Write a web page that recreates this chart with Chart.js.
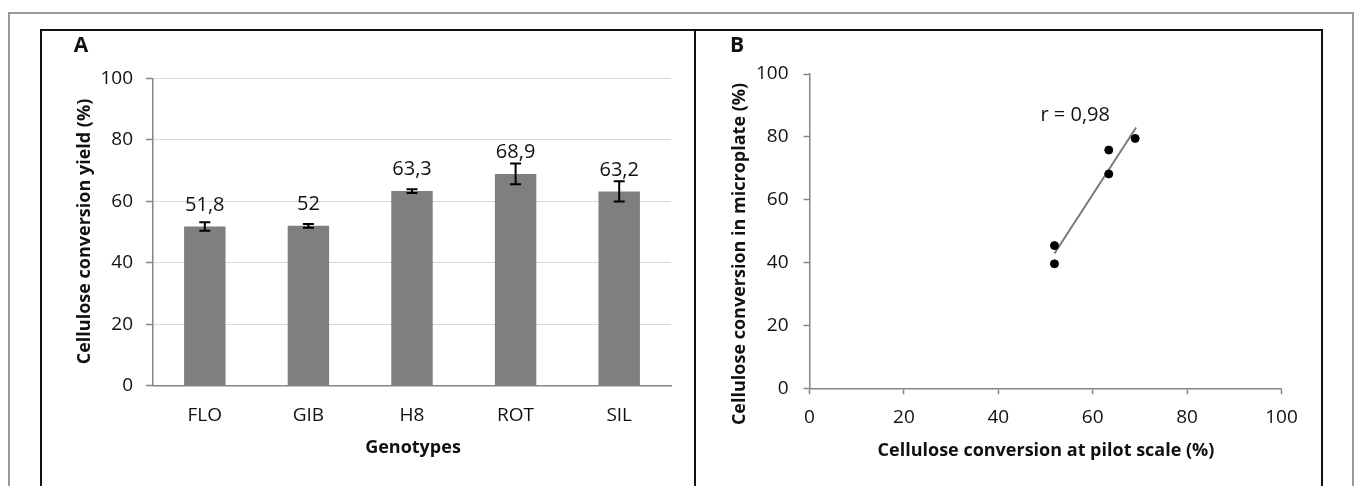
<!DOCTYPE html>
<html>
<head>
<meta charset="utf-8">
<script src="https://cdn.jsdelivr.net/npm/chart.js@4/dist/chart.umd.min.js"></script>
<style>
    body { margin: 0; background: #fff; width: 1357px; height: 486px; overflow: hidden; position: relative; }
    canvas { position: absolute; }
    .frame { position: absolute; box-sizing: border-box; pointer-events: none; }
</style>
</head>
<body>
<div class="frame" style="left:8px;top:12px;width:1346px;height:500px;border:2px solid #999;"></div>
<canvas id="yieldChart" width="655" height="457" style="left:40px;top:29px;"></canvas>
<canvas id="corrChart" width="627" height="457" style="left:695px;top:29px;"></canvas>
<div class="frame" style="left:40px;top:29px;width:1283px;height:480px;border:2px solid #111;"></div>
<div class="frame" style="left:694px;top:29px;width:2px;height:470px;background:#111;"></div>
<script>
// Panel A: yield per genotype
const genotypes = ['FLO', 'GIB', 'H8', 'ROT', 'SIL'];
const yieldValues = [51.8, 52, 63.3, 68.9, 63.2];
const yieldErrors = [1.4, 0.6, 0.6, 3.4, 3.3];
const yieldLabels = ['51,8', '52', '63,3', '68,9', '63,2'];

// Panel B: microplate vs pilot scale
const pilotScale = [51.9, 51.9, 63.4, 63.4, 69.0];
const microplate = [45.4, 39.6, 75.8, 68.2, 79.5];
const trendX = [51.9, 69.2];
const trendY = [42.9, 83.0];
const axisTicks = [0, 20, 40, 60, 80, 100];

const FONT = 'Open Sans';
const TEXT = '#111';
const AXIS = '#868686';

// draws fixed texts (panel letter, axis titles) at canvas positions
const textPlugin = {
    id: 'panelTexts',
    afterDraw(chart, args, opts) {
        const ctx = chart.ctx;
        (opts.items || []).forEach(function (t) {
            ctx.save();
            ctx.translate(t.x, t.y);
            if (t.rotate) ctx.rotate(t.rotate);
            ctx.font = t.font;
            ctx.fillStyle = TEXT;
            ctx.textAlign = 'center';
            ctx.textBaseline = 'middle';
            ctx.fillText(t.text, 0, 0);
            ctx.restore();
        });
    }
};

// error bars + value labels on the bars
const errorBarPlugin = {
    id: 'errorBars',
    afterDatasetsDraw(chart) {
        const ctx = chart.ctx;
        const yScale = chart.scales.y;
        const meta = chart.getDatasetMeta(0);
        meta.data.forEach(function (bar, i) {
            const top = yScale.getPixelForValue(yieldValues[i] + yieldErrors[i]);
            const bottom = yScale.getPixelForValue(yieldValues[i] - yieldErrors[i]);
            ctx.save();
            ctx.strokeStyle = '#000';
            ctx.lineWidth = 2;
            ctx.beginPath();
            ctx.moveTo(bar.x, top);
            ctx.lineTo(bar.x, bottom);
            ctx.moveTo(bar.x - 5.5, top);
            ctx.lineTo(bar.x + 5.5, top);
            ctx.moveTo(bar.x - 5.5, bottom);
            ctx.lineTo(bar.x + 5.5, bottom);
            ctx.stroke();
            ctx.font = '20px "' + FONT + '"';
            ctx.fillStyle = TEXT;
            ctx.textAlign = 'center';
            ctx.textBaseline = 'middle';
            ctx.fillText(yieldLabels[i], bar.x, bar.y - 21.5);
            ctx.restore();
        });
    }
};

const rLabelPlugin = {
    id: 'rLabel',
    afterDatasetsDraw(chart) {
        const ctx = chart.ctx;
        ctx.save();
        ctx.font = '20px "' + FONT + '"';
        ctx.fillStyle = TEXT;
        ctx.textAlign = 'center';
        ctx.textBaseline = 'middle';
        ctx.fillText('r = 0,98', chart.scales.x.getPixelForValue(56.3), chart.scales.y.getPixelForValue(87));
        ctx.restore();
    }
};

new Chart(document.getElementById('yieldChart'), {
    type: 'bar',
    data: {
        labels: genotypes,
        datasets: [{
            data: yieldValues,
            backgroundColor: '#7f7f7f',
            borderWidth: 0,
            categoryPercentage: 1,
            barPercentage: 0.4
        }]
    },
    options: {
        responsive: false,
        animation: false,
        devicePixelRatio: 1,
        layout: { padding: { top: 49.3, right: 24, left: 0, bottom: 0 } },
        scales: {
            x: {
                grid: { display: false, drawTicks: false },
                border: { display: true, color: AXIS, width: 1.5 },
                ticks: { padding: 18, color: TEXT, font: { family: FONT, size: 19 } },
                afterFit: function (scale) { scale.height = 100.3; }
            },
            y: {
                min: 0,
                max: 100,
                grid: { color: '#d9d9d9', lineWidth: 1, tickLength: 7, tickColor: AXIS, tickWidth: 1.5 },
                border: { display: true, color: AXIS, width: 1.5 },
                ticks: { stepSize: 20, padding: 13, color: TEXT, font: { family: FONT, size: 19 } },
                afterFit: function (scale) { scale.width = 113; }
            }
        },
        plugins: {
            legend: { display: false },
            tooltip: { enabled: false },
            panelTexts: {
                items: [
                    { text: 'A', x: 41, y: 17, font: 'bold 21px "' + FONT + '"' },
                    { text: 'Cellulose conversion yield (%)', x: 45, y: 202.5, rotate: -Math.PI / 2, font: 'bold 18px "' + FONT + '"' },
                    { text: 'Genotypes', x: 373, y: 419, font: 'bold 18px "' + FONT + '"' }
                ]
            }
        }
    },
    plugins: [errorBarPlugin, textPlugin]
});

new Chart(document.getElementById('corrChart'), {
    type: 'scatter',
    data: {
        datasets: [{
            data: pilotScale.map(function (x, i) { return { x: x, y: microplate[i] }; }),
            backgroundColor: '#000',
            borderColor: '#000',
            pointRadius: 4,
            pointHoverRadius: 4
        }, {
            type: 'line',
            data: trendX.map(function (x, i) { return { x: x, y: trendY[i] }; }),
            borderColor: '#7a7a7a',
            borderWidth: 2,
            pointRadius: 0,
            fill: false
        }]
    },
    options: {
        responsive: false,
        animation: false,
        devicePixelRatio: 1,
        layout: { padding: { top: 45, right: 40.5, left: 0, bottom: 0 } },
        scales: {
            x: {
                type: 'linear',
                min: axisTicks[0],
                max: axisTicks[axisTicks.length - 1],
                grid: { drawOnChartArea: false, tickLength: 6, tickColor: AXIS, tickWidth: 1.5 },
                border: { display: true, color: AXIS, width: 1.5 },
                ticks: { stepSize: 20, padding: 12, color: TEXT, font: { family: FONT, size: 19 } },
                afterFit: function (scale) { scale.height = 97.7; }
            },
            y: {
                min: axisTicks[0],
                max: axisTicks[axisTicks.length - 1],
                grid: { drawOnChartArea: false, tickLength: 6, tickColor: AXIS, tickWidth: 1.5 },
                border: { display: true, color: AXIS, width: 1.5 },
                ticks: { stepSize: 20, padding: 15, color: TEXT, font: { family: FONT, size: 19 } },
                afterFit: function (scale) { scale.width = 114.5; }
            }
        },
        plugins: {
            legend: { display: false },
            tooltip: { enabled: false },
            panelTexts: {
                items: [
                    { text: 'B', x: 42, y: 17, font: 'bold 21px "' + FONT + '"' },
                    { text: 'Cellulose conversion in microplate (%)', x: 44.6, y: 225, rotate: -Math.PI / 2, font: 'bold 18px "' + FONT + '"' },
                    { text: 'Cellulose conversion at pilot scale (%)', x: 351, y: 421.7, font: 'bold 18px "' + FONT + '"' }
                ]
            }
        }
    },
    plugins: [rLabelPlugin, textPlugin]
});
</script>
</body>
</html>
